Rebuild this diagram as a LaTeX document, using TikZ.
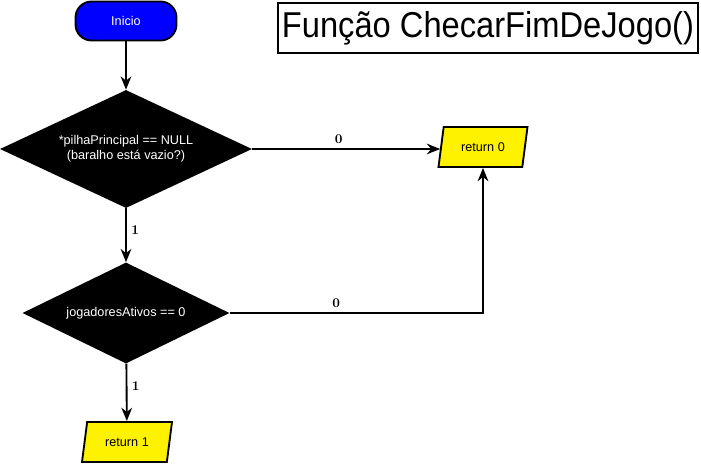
\documentclass[tikz,border=0pt]{standalone}
\usepackage{fontspec}
\setsansfont{Liberation Sans}
\usetikzlibrary{shapes.geometric,arrows.meta}

\begin{document}
\begin{tikzpicture}[x=0.75pt,y=-0.75pt,
    font=\sffamily\fontsize{9.5}{11.5}\selectfont,
    linha/.style={line width=1.4pt},
    seta/.style={linha,-{Stealth[length=10pt,width=8pt]}},
    decisao/.style={diamond,aspect=2.1,fill=black,text=white,inner sep=0pt,align=center},
    saida/.style={trapezium,trapezium left angle=70,trapezium right angle=110,
        trapezium stretches body,draw,line width=1.4pt,fill=yellow,
        minimum height=30pt,inner sep=2pt},
    rotulo/.style={font=\rmfamily\bfseries\fontsize{10}{11}\selectfont}]
    % Define the bounding box of the page
    \useasboundingbox (0,0) rectangle (701,464);

    % Title
    \node[draw,line width=1.4pt,minimum width=315pt,minimum height=37.5pt,inner sep=0pt,
        font=\sffamily\fontsize{24.5}{28}\selectfont] (titulo) at (488,28)
        {\scalebox{1}[1.1]{Função ChecarFimDeJogo()}};

    % Start and decisions
    \node[draw,line width=1.4pt,fill=blue,text=white,rounded corners=12pt,
        minimum width=75.75pt,minimum height=29.25pt] (inicio) at (126,21) {Inicio};
    \node[decisao,minimum width=189pt,minimum height=88.5pt] (pilha) at (126,149)
        {*pilhaPrincipal == NULL\\(baralho está vazio?)};
    \node[decisao,minimum width=155.25pt,minimum height=75.75pt] (jogadores) at (126,313)
        {jogadoresAtivos == 0};

    % Outputs
    \node[saida,minimum width=66.75pt] (ret0) at (483,147) {return 0};
    \node[saida,minimum width=67.5pt] (ret1) at (127,442) {return 1};

    % Connectors
    \draw[seta] (inicio) -- (pilha);
    \draw[seta] (pilha.east) -- node[rotulo,above,pos=0.46] {0} (pilha.east -| ret0.west);
    \draw[seta] (pilha) -- node[rotulo,right,pos=0.4] {1} (jogadores);
    \draw[seta] (jogadores.east) -| node[rotulo,above,pos=0.21] {0} (ret0.south);
    \draw[seta] (jogadores) -- node[rotulo,right,pos=0.4] {1} (ret1);
\end{tikzpicture}
\end{document}
